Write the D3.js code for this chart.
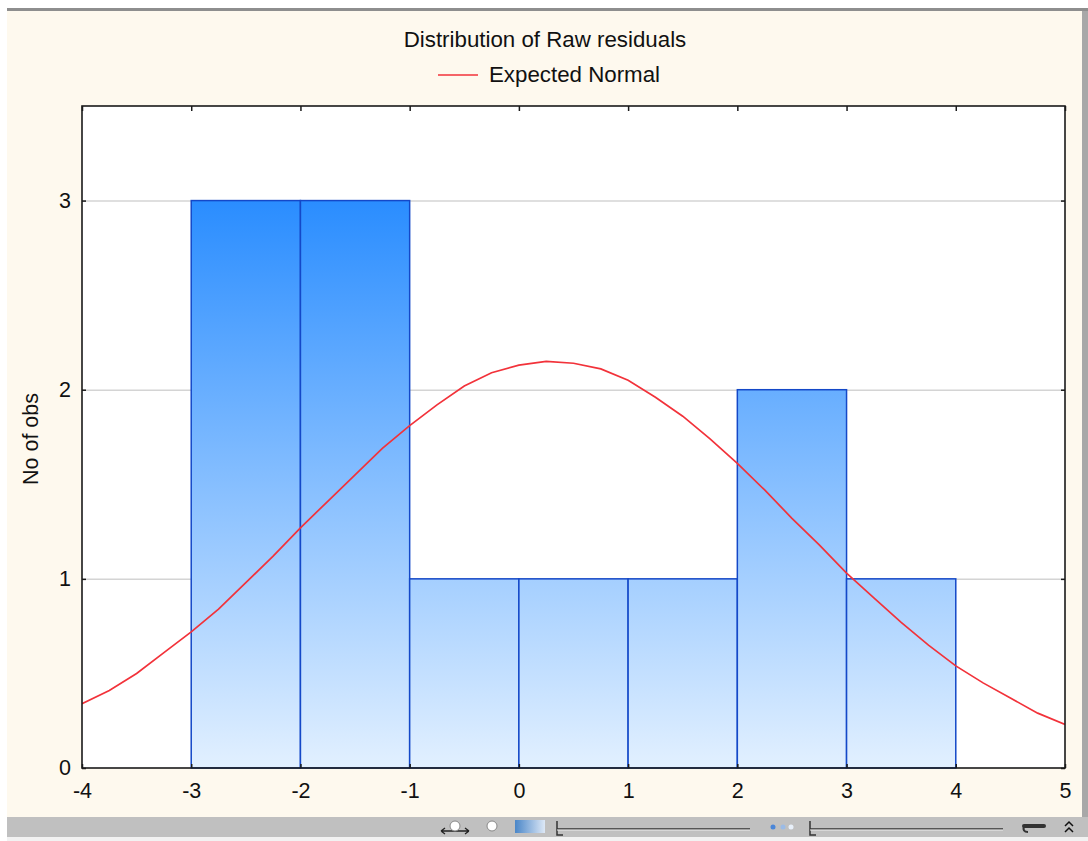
<!DOCTYPE html>
<html>
<head>
<meta charset="utf-8">
<script src="https://cdn.jsdelivr.net/npm/d3@7"></script>
<style>
  html, body { margin: 0; padding: 0; background: #ffffff; }
  svg { display: block; }
  text { font-family: "Liberation Sans", Arial, sans-serif; fill: #111; }
</style>
</head>
<body>
<svg id="chart" width="1088" height="841"></svg>
<script>
// ---- data ----
const title = "Distribution of Raw residuals";
const legendLabel = "Expected Normal";
const yLabel = "No of obs";
const binLower = [-3, -2, -1, 0, 1, 2, 3];
const binUpper = [-2, -1, 0, 1, 2, 3, 4];
const counts   = [3, 3, 1, 1, 1, 2, 1];
const curveX = [-4, -3.75, -3.5, -3.25, -3, -2.75, -2.5, -2.25, -2, -1.75, -1.5, -1.25, -1, -0.75, -0.5, -0.25,
                0, 0.25, 0.5, 0.75, 1, 1.25, 1.5, 1.75, 2, 2.25, 2.5, 2.75, 3, 3.25, 3.5, 3.75, 4, 4.25, 4.5, 4.75, 5];
const curveY = [0.34, 0.41, 0.50, 0.61, 0.72, 0.84, 0.98, 1.12, 1.27, 1.41, 1.55, 1.69, 1.81, 1.92, 2.02, 2.09,
                2.13, 2.15, 2.14, 2.11, 2.05, 1.96, 1.86, 1.74, 1.61, 1.47, 1.32, 1.18, 1.03, 0.90, 0.77, 0.65, 0.54, 0.45, 0.37, 0.29, 0.23];
const xTicks = [-4, -3, -2, -1, 0, 1, 2, 3, 4, 5];
const yTicks = [0, 1, 2, 3];
const xDomain = [-4, 5];
const yDomain = [0, 3.5];

// ---- layout ----
const svg = d3.select("#chart");
const plot = { left: 82, top: 106, right: 1065, bottom: 768 };
const tickFont = 21.5;
const headFont = 22.3;

// panel background
svg.append("rect").attr("x", 7).attr("y", 8).attr("width", 1075).attr("height", 809).attr("fill", "#fef9ee");
svg.append("rect").attr("x", 7).attr("y", 8).attr("width", 1081).attr("height", 3).attr("fill", "#8e8e8e");
svg.append("rect").attr("x", 1082).attr("y", 11).attr("width", 6).attr("height", 806).attr("fill", "#a8a8a8");
// bottom toolbar
svg.append("rect").attr("x", 7).attr("y", 817).attr("width", 1081).attr("height", 20).attr("fill", "#c0c0c0");
svg.append("rect").attr("x", 7).attr("y", 837).attr("width", 1081).attr("height", 4).attr("fill", "#f2f2f2");

const x = d3.scaleLinear().domain(xDomain).range([plot.left, plot.right]);
const y = d3.scaleLinear().domain(yDomain).range([plot.bottom, plot.top]);

// plot background
svg.append("rect").attr("x", plot.left).attr("y", plot.top)
  .attr("width", plot.right - plot.left).attr("height", plot.bottom - plot.top).attr("fill", "#ffffff");

// gridlines
svg.append("g").selectAll("line").data(yTicks.filter(d => d > 0)).join("line")
  .attr("x1", plot.left).attr("x2", plot.right)
  .attr("y1", d => y(d) + 0.5).attr("y2", d => y(d) + 0.5)
  .attr("stroke", "#d4d4d4").attr("stroke-width", 1.5);

// gradient
const defs = svg.append("defs");
const grad = defs.append("linearGradient").attr("id", "barGrad")
  .attr("gradientUnits", "userSpaceOnUse")
  .attr("x1", 0).attr("x2", 0).attr("y1", y(3)).attr("y2", y(0));
grad.append("stop").attr("offset", "0%").attr("stop-color", "#2a8dff");
grad.append("stop").attr("offset", "100%").attr("stop-color", "#e2f0ff");

// bars
svg.append("g").selectAll("rect").data(counts).join("rect")
  .attr("x", (d, i) => x(binLower[i]))
  .attr("y", d => y(d))
  .attr("width", (d, i) => x(binUpper[i]) - x(binLower[i]))
  .attr("height", d => y(0) - y(d))
  .attr("fill", "url(#barGrad)")
  .attr("stroke", "#1448c8").attr("stroke-width", 1.5);

// normal curve
const line = d3.line().x(d => x(d[0])).y(d => y(d[1]));
svg.append("clipPath").attr("id", "plotClip").append("rect")
  .attr("x", plot.left).attr("y", plot.top).attr("width", plot.right - plot.left).attr("height", plot.bottom - plot.top);
svg.append("path").datum(curveX.map((v, i) => [v, curveY[i]]))
  .attr("clip-path", "url(#plotClip)")
  .attr("d", line).attr("fill", "none").attr("stroke", "#f2323a").attr("stroke-width", 1.7);

// frame
svg.append("rect").attr("x", plot.left).attr("y", plot.top)
  .attr("width", plot.right - plot.left).attr("height", plot.bottom - plot.top)
  .attr("fill", "none").attr("stroke", "#1a1a1a").attr("stroke-width", 1.6);

// axes
const fmt = d => String(d);
const xAxisB = d3.axisBottom(x).tickValues(xTicks).tickSize(-4).tickPadding(15).tickFormat(fmt);
const gxb = svg.append("g").attr("transform", `translate(0,${plot.bottom})`).call(xAxisB);
const xAxisT = d3.axisTop(x).tickValues(xTicks).tickSize(-5).tickFormat("");
const gxt = svg.append("g").attr("transform", `translate(0,${plot.top})`).call(xAxisT);
const yAxisL = d3.axisLeft(y).tickValues(yTicks).tickSize(-4).tickPadding(11).tickFormat(fmt);
const gyl = svg.append("g").attr("transform", `translate(${plot.left},0)`).call(yAxisL);
const yAxisR = d3.axisRight(y).tickValues(yTicks).tickSize(-4).tickFormat("");
const gyr = svg.append("g").attr("transform", `translate(${plot.right},0)`).call(yAxisR);
[gxb, gxt, gyl, gyr].forEach(g => {
  g.select(".domain").remove();
  g.selectAll(".tick line").attr("stroke", "#1a1a1a").attr("stroke-width", 1.5);
  g.selectAll(".tick text").attr("font-size", tickFont).attr("fill", "#111")
    .attr("font-family", "'Liberation Sans', Arial, sans-serif");
});

// title
svg.append("text").attr("x", 545).attr("y", 47).attr("text-anchor", "middle")
  .attr("font-size", headFont).text(title);
// legend
svg.append("line").attr("x1", 438).attr("x2", 478).attr("y1", 75).attr("y2", 75)
  .attr("stroke", "#f2323a").attr("stroke-width", 1.7);
svg.append("text").attr("x", 489).attr("y", 82).attr("font-size", headFont).text(legendLabel);
// y label
svg.append("text").attr("transform", "translate(38,439) rotate(-90)").attr("text-anchor", "middle")
  .attr("font-size", tickFont).text(yLabel);

// toolbar decorations
const tb = svg.append("g");
tb.append("path").attr("d", "M441,831 L469,831 M441,831 l4,-3 M441,831 l4,3 M469,831 l-4,-3 M469,831 l-4,3")
  .attr("stroke", "#222").attr("stroke-width", 1.3).attr("fill", "none");
tb.append("circle").attr("cx", 455).attr("cy", 826).attr("r", 5).attr("fill", "#fff").attr("stroke", "#888");
tb.append("circle").attr("cx", 492).attr("cy", 826).attr("r", 5).attr("fill", "#fff").attr("stroke", "#888");
const tg = defs.append("linearGradient").attr("id", "tbGrad");
tg.append("stop").attr("offset", "0%").attr("stop-color", "#4a86c8");
tg.append("stop").attr("offset", "100%").attr("stop-color", "#dde8f6");
tb.append("rect").attr("x", 515).attr("y", 820).attr("width", 30).attr("height", 13).attr("fill", "url(#tbGrad)");
tb.append("path").attr("d", "M557,821 L557,835 L563,835 M557,829 L750,829")
  .attr("stroke", "#333").attr("stroke-width", 1.5).attr("fill", "none");
tb.append("path").attr("d", "M557,830 L750,830").attr("stroke", "#eee").attr("stroke-width", 1);
tb.append("circle").attr("cx", 773).attr("cy", 827).attr("r", 2.5).attr("fill", "#4a86d8");
tb.append("circle").attr("cx", 783).attr("cy", 827).attr("r", 2.5).attr("fill", "#9bbbe6");
tb.append("circle").attr("cx", 791).attr("cy", 827).attr("r", 2.5).attr("fill", "#e8f0fa");
tb.append("path").attr("d", "M810,821 L810,835 L816,835 M810,829 L1003,829")
  .attr("stroke", "#333").attr("stroke-width", 1.5).attr("fill", "none");
tb.append("path").attr("d", "M810,830 L1003,830").attr("stroke", "#eee").attr("stroke-width", 1);
tb.append("path").attr("d", "M1024,826 L1044,826").attr("stroke", "#333").attr("stroke-width", 4).attr("stroke-linecap", "round");
tb.append("path").attr("d", "M1024,826 q-2,6 4,6").attr("stroke", "#333").attr("stroke-width", 2).attr("fill", "none");
tb.append("path").attr("d", "M1065,826 l4,-4 l4,4 M1065,832 l4,-4 l4,4").attr("stroke", "#111").attr("stroke-width", 1.5).attr("fill", "none");
</script>
</body>
</html>
